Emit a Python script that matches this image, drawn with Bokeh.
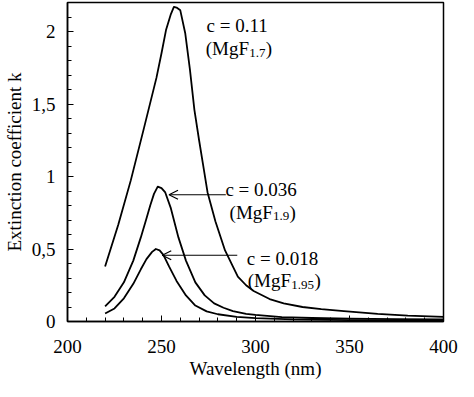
from bokeh.plotting import figure
from bokeh.models import Range1d, FixedTicker, Label, Arrow, OpenHead
from bokeh.embed import file_html
from bokeh.resources import INLINE

# ---- data ----
wl_011 = [220, 227, 233.7, 240.6, 247.3, 250, 252.4, 255, 256.6, 258, 260, 262.6,
          265.1, 267.5, 270, 272, 274.5, 278.7, 283.8, 290.6, 295, 299, 307.5,
          315, 325, 335, 347, 365, 381, 400]
k_011 = [0.38, 0.667, 0.975, 1.33, 1.68, 1.85, 2.01, 2.12, 2.17, 2.165, 2.146, 1.99,
         1.74, 1.46, 1.25, 1.09, 0.89, 0.69, 0.49, 0.31, 0.25, 0.21, 0.155,
         0.125, 0.10, 0.085, 0.071, 0.052, 0.04, 0.032]

wl_036 = [220, 225, 230, 235, 239, 242, 244, 246, 248, 250, 252, 255, 259, 263,
          268, 273, 278, 283, 288, 295, 300, 314, 330, 350, 375, 400]
k_036 = [0.105, 0.17, 0.27, 0.42, 0.58, 0.71, 0.80, 0.88, 0.93, 0.92, 0.89, 0.78,
         0.58, 0.42, 0.27, 0.18, 0.125, 0.095, 0.072, 0.053, 0.045, 0.03, 0.024,
         0.02, 0.016, 0.014]

wl_018 = [220, 225, 230, 235, 239, 242, 245, 247, 249, 251, 254, 258, 263, 268,
          274, 280, 290, 300, 320, 350, 400]
k_018 = [0.055, 0.09, 0.16, 0.26, 0.36, 0.43, 0.48, 0.50, 0.49, 0.46, 0.38, 0.28,
         0.18, 0.11, 0.07, 0.05, 0.032, 0.023, 0.014, 0.01, 0.007]

x_ticks = [200, 250, 300, 350, 400]
y_ticks = [0, 0.5, 1, 1.5, 2]
y_tick_labels = {0: "0", 0.5: "0,5", 1: "1", 1.5: "1,5", 2: "2"}

FONT = "Liberation Serif"

p = figure(width=458, height=381, output_backend="svg", toolbar_location=None,
           x_range=Range1d(200, 400), y_range=Range1d(0, 2.2))
p.min_border_left = 59
p.min_border_right = 15
p.min_border_top = 2
p.min_border_bottom = 2
p.grid.visible = False
p.background_fill_color = "white"
p.outline_line_color = "black"
p.outline_line_width = 1.5

for ax in (p.xaxis[0], p.yaxis[0]):
    ax.axis_line_color = "black"
    ax.axis_line_width = 1.5
    ax.major_tick_in = 6
    ax.major_tick_out = 0
    ax.minor_tick_in = 4
    ax.minor_tick_out = 0
    ax.major_tick_line_color = "black"
    ax.minor_tick_line_color = "black"
    ax.major_label_text_font = FONT
    ax.major_label_text_font_size = "19px"
    ax.major_label_text_color = "black"
    ax.axis_label_text_font = FONT
    ax.axis_label_text_font_size = "19px"
    ax.axis_label_text_font_style = "normal"
    ax.axis_label_text_color = "black"

p.xaxis.ticker = FixedTicker(ticks=x_ticks, minor_ticks=list(range(200, 401, 10)))
p.yaxis.ticker = FixedTicker(ticks=y_ticks, minor_ticks=[round(0.1 * i, 1) for i in range(23)])
p.yaxis.major_label_overrides = y_tick_labels
p.xaxis.axis_label = "Wavelength (nm)"
p.yaxis.axis_label = "Extinction coefficient k"
p.xaxis.major_label_standoff = 18
p.xaxis.axis_label_standoff = 2
p.yaxis.major_label_standoff = 12
p.yaxis.axis_label_standoff = 4

for xs, ys in ((wl_011, k_011), (wl_036, k_036), (wl_018, k_018)):
    p.line(xs, ys, line_color="black", line_width=1.8, line_join="round")

def add_text(x, y, txt, size="19px", xoff=0, yoff=0):
    p.add_layout(Label(x=x, y=y, text=txt, x_offset=xoff, y_offset=yoff,
                       text_font=FONT, text_font_size=size, text_color="black",
                       text_baseline="alphabetic", text_align="left"))

def add_formula(x, y, sub):
    add_text(x, y, "(MgF")
    add_text(x, y, sub, size="13px", xoff=43.5, yoff=-4)
    add_text(x, y, ")", xoff=43.5 + len(sub) * 6.6 - (3.3 if "." in sub else 0))

add_text(274.0, 2.04, "c = 0.11")
add_formula(273.5, 1.88, "1.7")
add_text(284.0, 0.909, "c = 0.036")
add_formula(286.2, 0.755, "1.9")
add_text(295.4, 0.435, "c = 0.018")
add_formula(295.9, 0.28, "1.95")

p.add_layout(Arrow(x_start=284.2, y_start=0.874, x_end=254.0, y_end=0.874,
                   line_color="black", line_width=1.2,
                   end=OpenHead(size=9, line_color="black", line_width=1.2)))
p.add_layout(Arrow(x_start=290.3, y_start=0.457, x_end=250.4, y_end=0.457,
                   line_color="black", line_width=1.2,
                   end=OpenHead(size=9, line_color="black", line_width=1.2)))

open("out.html", "w").write(file_html(p, INLINE))
